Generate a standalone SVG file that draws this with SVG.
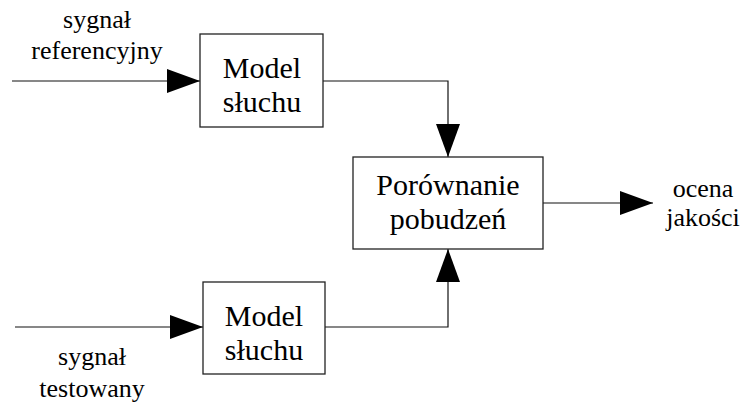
<svg xmlns="http://www.w3.org/2000/svg" width="752" height="404" viewBox="0 0 752 404">
<defs>
<marker id="arr" markerUnits="userSpaceOnUse" markerWidth="34" markerHeight="26" refX="33" refY="12" orient="auto">
<polygon points="0,0 33,12 0,24" fill="#000"/>
</marker>
<style>
.box{fill:#fff;stroke:#222;stroke-width:1.3}
.ln{fill:none;stroke:#111;stroke-width:1.2}
.t{font-family:'Liberation Serif','Times New Roman',serif;fill:#000;text-anchor:middle}
.big{font-size:30px}
.sm{font-size:26px}
</style>
</defs>
<rect width="752" height="404" fill="#fff"/>
<g id="connectors">
<path class="ln" d="M12,81 H200" marker-end="url(#arr)"/>
<path class="ln" d="M323,81 H448 V157" marker-end="url(#arr)"/>
<path class="ln" d="M15,327 H203" marker-end="url(#arr)"/>
<path class="ln" d="M325,327 H448 V249" marker-end="url(#arr)"/>
<path class="ln" d="M543,203 H653" marker-end="url(#arr)"/>
</g>
<g id="label-ref">
<text class="t sm" x="97" y="28">sygnał</text>
<text class="t sm" x="97" y="59">referencyjny</text>
</g>
<g id="model1">
<rect class="box" x="200" y="34" width="123" height="93"/>
<text class="t big" x="262" y="78">Model</text>
<text class="t big" x="262" y="112">słuchu</text>
</g>
<g id="compare">
<rect class="box" x="353" y="157" width="190" height="92"/>
<text class="t big" x="448" y="195">Porównanie</text>
<text class="t big" x="448" y="229">pobudzeń</text>
</g>
<g id="label-out">
<text class="t sm" x="703" y="197">ocena</text>
<text class="t sm" x="703" y="226">jakości</text>
</g>
<g id="model2">
<rect class="box" x="203" y="282" width="122" height="92"/>
<text class="t big" x="264" y="326">Model</text>
<text class="t big" x="264" y="360">słuchu</text>
</g>
<g id="label-test">
<text class="t sm" x="92" y="365">sygnał</text>
<text class="t sm" x="92" y="397">testowany</text>
</g>
</svg>
